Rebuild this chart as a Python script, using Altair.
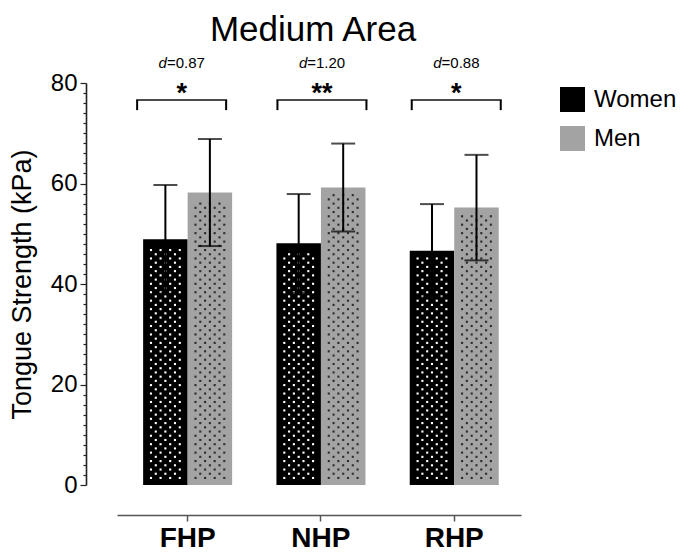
import altair as alt
import pandas as pd
import numpy as np

# ---------------- data ----------------
categories = ["FHP", "NHP", "RHP"]
groups = ["Women", "Men"]
women_mean = [48.9, 48.1, 46.6]
women_sd = [10.8, 9.8, 9.3]
men_mean = [58.2, 59.2, 55.2]
men_sd = [10.65, 8.75, 10.5]
effect_d = ["0.87", "1.20", "0.88"]
stars = ["*", "**", "*"]
y_ticks = list(range(0, 81, 2))

# ---------------- style ----------------
FONT = "Liberation Sans"
W, H = 404, 402
bar_colors = ["#000000", "#a3a3a3"]
dot_colors = {"Women": "#ffffff", "Men": "#2e2e2e"}
ann_shift = {"FHP": -6, "NHP": 1, "RHP": 2}
BAND = 89
HALF = 22.25

rows = []
for i, c in enumerate(categories):
    rows.append(dict(cat=c, sex="Women", mean=women_mean[i],
                     lo=women_mean[i] - women_sd[i], hi=women_mean[i] + women_sd[i]))
    rows.append(dict(cat=c, sex="Men", mean=men_mean[i],
                     lo=men_mean[i] - men_sd[i], hi=men_mean[i] + men_sd[i]))
bars = pd.DataFrame(rows)

# dotted fill texture (decoration of each bar)
tex_rows = []
for r in rows:
    ys = np.arange(1.4, r["mean"] - 1.4, 0.84)
    for k, yv in enumerate(ys):
        cols = [0, 2, 4, 6] if k % 2 == 0 else [1, 3, 5]
        for cc in cols:
            tex_rows.append(dict(cat=r["cat"], sex=r["sex"], y=float(yv), col=cc))
tex = pd.DataFrame(tex_rows)

ann = pd.DataFrame(dict(cat=categories, d=["=" + v for v in effect_d], star=stars))

xscale = alt.Scale(domain=categories, paddingInner=0.3323, paddingOuter=0.1815, align=0.54)
yscale = alt.Scale(domain=[0, 80], nice=False, zero=True)
xoff = alt.XOffset("sex:N", scale=alt.Scale(domain=groups, paddingInner=0, paddingOuter=0))

xaxis = alt.Axis(title=None, labelFont=FONT, labelFontSize=28, labelFontWeight="bold",
                 labelColor="#000", labelPadding=3, tickSize=6, tickColor="#555",
                 tickWidth=1.5, domainColor="#555", domainWidth=1.5, offset=30,
                 labelAngle=0, grid=False)
yaxis = alt.Axis(title="Tongue Strength (kPa)", titleFont=FONT, titleFontSize=27,
                 titleFontWeight="normal", titleColor="#000", titlePadding=14,
                 labelFont=FONT, labelFontSize=24, labelColor="#000", labelPadding=3,
                 values=y_ticks, labelOverlap=False,
                 labelExpr="datum.value % 20 === 0 ? datum.label : ''",
                 tickSize={"condition": {"test": "datum.value % 20 === 0", "value": 6}, "value": 3},
                 tickColor="#222", tickWidth=1.2, domainColor="#222", domainWidth=1.6,
                 offset=31, grid=False)


def Y(field):
    return alt.Y(field, scale=yscale, axis=yaxis)


def YD(v):
    return alt.YDatum(v, scale=yscale, axis=yaxis)


base = alt.Chart(bars)

bar_layer = base.mark_bar(stroke=None).encode(
    x=alt.X("cat:N", scale=xscale, axis=xaxis, sort=categories),
    xOffset=xoff,
    y=Y("mean:Q"),
    color=alt.Color("sex:N", scale=alt.Scale(domain=groups, range=bar_colors),
                    legend=alt.Legend(title=None, orient="none", legendX=443, legendY=4,
                                      symbolType="square", symbolSize=625,
                                      symbolStrokeWidth=0, labelFont=FONT,
                                      labelFontSize=24, labelColor="#000",
                                      rowPadding=14, labelOffset=9, padding=0)),
)

layers = [bar_layer]

offsets = {0: -14.4, 1: -9.6, 2: -4.8, 3: 0.0, 4: 4.8, 5: 9.6, 6: 14.4}
for sex, side in (("Women", -HALF), ("Men", HALF)):
    for cc, dx in offsets.items():
        layers.append(
            alt.Chart(tex).transform_filter(
                f"datum.col == {cc} && datum.sex == '{sex}'"
            ).mark_square(
                size=4.5, strokeWidth=0, opacity=1, xOffset=side + dx,
                color=dot_colors[sex],
            ).encode(x=alt.X("cat:N"), y=Y("y:Q"))
        )

layers.append(base.mark_rule(color="#000", strokeWidth=2).encode(
    x=alt.X("cat:N"), xOffset=xoff, y=Y("lo:Q"), y2="hi:Q"))
layers.append(base.mark_tick(color="#000", orient="horizontal", size=24, thickness=2).encode(
    x=alt.X("cat:N"), xOffset=xoff, y=Y("hi:Q")))
layers.append(base.mark_tick(color="#000", orient="horizontal", size=24, thickness=2).encode(
    x=alt.X("cat:N"), xOffset=xoff, y=Y("lo:Q")))

BR_TOP, BR_BOT, STAR_Y, D_Y = 76.6, 74.6, 76.3, 83.0
for c in categories:
    s = ann_shift[c]
    a = alt.Chart(ann).transform_filter(f"datum.cat == '{c}'")
    layers.append(a.mark_tick(color="#000", orient="horizontal", size=BAND + 2,
                              thickness=2, xOffset=s).encode(
        x=alt.X("cat:N"), y=YD(BR_TOP)))
    for bp in (0, 1):
        layers.append(a.mark_rule(color="#000", strokeWidth=2, xOffset=s).encode(
            x=alt.X("cat:N", bandPosition=bp), y=YD(BR_BOT), y2=alt.datum(BR_TOP)))
    layers.append(a.mark_text(font=FONT, fontSize=27, fontWeight="bold", color="#000",
                              baseline="alphabetic", align="center", dx=s).encode(
        x=alt.X("cat:N"), y=YD(STAR_Y), text="star:N"))
    layers.append(a.mark_text(font=FONT, fontSize=15, fontStyle="italic", color="#000",
                              baseline="alphabetic", align="right", dx=s - 14.7).encode(
        x=alt.X("cat:N"), y=YD(D_Y), text=alt.value("d")))
    layers.append(a.mark_text(font=FONT, fontSize=15, color="#000",
                              baseline="alphabetic", align="left", dx=s - 14.7).encode(
        x=alt.X("cat:N"), y=YD(D_Y), text="d:N"))

chart = alt.layer(*layers).properties(
    width=W, height=H,
    title=alt.TitleParams("Medium Area", font=FONT, fontSize=35, fontWeight="normal",
                          color="#000", anchor="middle", dx=-6, offset=8),
    autosize=alt.AutoSizeParams(type="none"),
    padding={"left": 109, "top": 75, "right": 156, "bottom": 67},
).configure_view(stroke=None).configure_axis(grid=False)

chart.save("out.html", embed_options={"renderer": "svg", "actions": False})
